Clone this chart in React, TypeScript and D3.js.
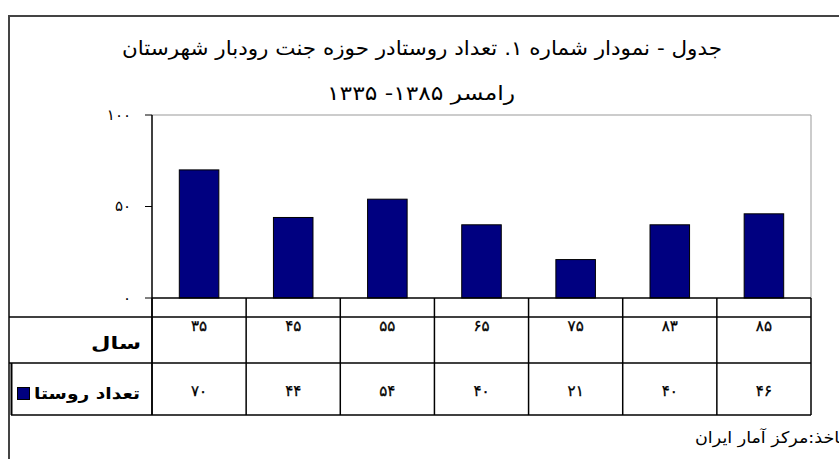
import React from "react";
import * as d3 from "d3";

const years = ["35", "45", "55", "65", "75", "83", "85"];
const villages = [70, 44, 54, 40, 21, 40, 46];
const yTicks = [0, 50, 100];
const titleLine1 = "جدول - نمودار شماره ۱. تعداد روستادر حوزه جنت رودبار شهرستان";
const titleLine2 = "رامسر ۱۳۸۵- ۱۳۳۵";
const rowYearLabel = "سال";
const seriesLabel = "تعداد روستا";
const sourceText = "ماخذ:مرکز آمار ایران";

const fa = (v: string | number) =>
  String(v).replace(/[0-9]/g, (d) => "۰۱۲۳۴۵۶۷۸۹"[+d]);

const FONT = "'DejaVu Sans', sans-serif";

export default function App() {
  const W = 839, H = 459;
  const left = 152, right = 811, top = 115, bottom = 298;
  const row0 = 317, row1 = 363, row2 = 415;

  const x = d3.scaleBand<string>().domain(years).range([left, right]).padding(0);
  const y = d3.scaleLinear().domain([0, 100]).range([bottom, top]);
  const bw = x.bandwidth() * 0.42;
  const edges = years.map((yr) => x(yr)!).concat([right]);

  return (
    <svg width={W} height={H} style={{ position: "absolute", left: 0, top: 0, background: "#fff" }}
      fontFamily={FONT}>
      <rect x={0} y={0} width={W} height={H} fill="#fff" />
      {/* outer frame */}
      <rect x={9} y={16} width={W + 20} height={H + 20} fill="none" stroke="#444" strokeWidth={2} />
      {/* title */}
      <text x={422} y={55} textAnchor="middle" fontSize={20} fill="#000"
        textLength={600} lengthAdjust="spacingAndGlyphs">{titleLine1}</text>
      <text x={421} y={100} textAnchor="middle" fontSize={20} fill="#000"
        textLength={188} lengthAdjust="spacingAndGlyphs">{titleLine2}</text>

      {/* plot border top & right */}
      <line x1={left} y1={top} x2={right} y2={top} stroke="#999" strokeWidth={1} />
      <line x1={right} y1={top} x2={right} y2={bottom} stroke="#999" strokeWidth={1} />

      {/* y axis */}
      <line x1={left} y1={top} x2={left} y2={row2} stroke="#000" strokeWidth={1.5} />
      {yTicks.map((t) => (
        <g key={t}>
          <line x1={left - 7} x2={left} y1={y(t)} y2={y(t)} stroke="#000" strokeWidth={1} />
          <text x={131} y={y(t)} dy="0.3em" textAnchor="end" fontSize={15} fill="#000">{fa(t)}</text>
        </g>
      ))}

      {/* bars */}
      {years.map((yr, i) => (
        <rect key={yr} x={x(yr)! + (x.bandwidth() - bw) / 2} y={y(villages[i])}
          width={bw} height={y(0) - y(villages[i])} fill="#000080" stroke="#000" strokeWidth={1} />
      ))}

      {/* x axis / table */}
      <line x1={left} y1={bottom} x2={right} y2={bottom} stroke="#000" strokeWidth={1.5} />
      <line x1={9} y1={row0} x2={right} y2={row0} stroke="#000" strokeWidth={1.5} />
      <line x1={9} y1={row1} x2={right} y2={row1} stroke="#000" strokeWidth={1.5} />
      <line x1={11} y1={row2} x2={right} y2={row2} stroke="#000" strokeWidth={1.5} />
      <line x1={11.5} y1={row1} x2={11.5} y2={row2} stroke="#000" strokeWidth={2} />
      {edges.map((e, i) => (
        <line key={i} x1={e} x2={e} y1={bottom} y2={row2} stroke="#000" strokeWidth={1.5} />
      ))}
      {years.map((yr) => (
        <text key={yr} x={x(yr)! + x.bandwidth() / 2} y={331} textAnchor="middle" fontSize={15}
          fill="#000" stroke="#000" strokeWidth={0.3}>{fa(yr)}</text>
      ))}
      {years.map((yr, i) => (
        <text key={yr} x={x(yr)! + x.bandwidth() / 2} y={396} textAnchor="middle" fontSize={15}
          fill="#000" stroke="#000" strokeWidth={0.3}>{fa(villages[i])}</text>
      ))}
      <text x={141} y={349} textAnchor="end" fontSize={17} fontWeight="bold" fill="#000"
        textLength={50} lengthAdjust="spacingAndGlyphs">{rowYearLabel}</text>
      <text x={140} y={399} textAnchor="end" fontSize={16} fontWeight="bold" fill="#000"
        textLength={106} lengthAdjust="spacingAndGlyphs">{seriesLabel}</text>
      <rect x={17.5} y={387.5} width={12} height={12} fill="#000080" stroke="#000" strokeWidth={1} />

      {/* source */}
      <text x={849} y={443} textAnchor="end" fontSize={16} fill="#000"
        textLength={154} lengthAdjust="spacingAndGlyphs">{sourceText}</text>
    </svg>
  );
}
